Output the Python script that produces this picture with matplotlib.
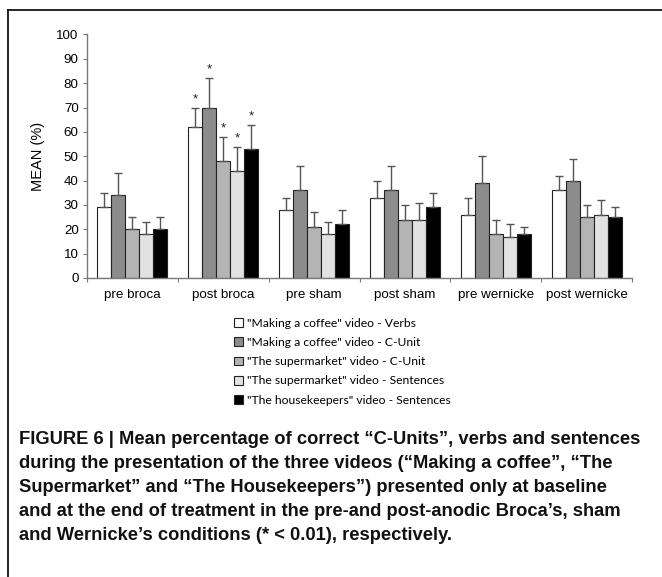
import matplotlib
matplotlib.use("Agg")
import matplotlib.pyplot as plt
from matplotlib.patches import Patch
from matplotlib.lines import Line2D
import numpy as np

categories = ["pre broca", "post broca", "pre sham", "post sham", "pre wernicke", "post wernicke"]
series_labels = ['"Making a coffee" video - Verbs',
                 '"Making a coffee" video - C-Unit',
                 '"The supermarket" video - C-Unit',
                 '"The supermarket" video - Sentences',
                 '"The housekeepers" video - Sentences']
means = [
    [29, 62, 28, 33, 26, 36],
    [34, 70, 36, 36, 39, 40],
    [20, 48, 21, 24, 18, 25],
    [18, 44, 18, 24, 17, 26],
    [20, 53, 22, 29, 18, 25],
]
err_tops = [
    [35, 70, 33, 40, 33, 42],
    [43, 82, 46, 46, 50, 49],
    [25, 58, 27, 30, 24, 30],
    [23, 54, 23, 31, 22, 32],
    [25, 63, 28, 35, 21, 29],
]
significant = [
    [False, True, False, False, False, False],
    [False, True, False, False, False, False],
    [False, True, False, False, False, False],
    [False, True, False, False, False, False],
    [False, True, False, False, False, False],
]
colors = ["#ffffff", "#8c8c8c", "#b4b4b4", "#e2e2e2", "#000000"]
yticks = list(range(0, 101, 10))
caption_lines = [
    "FIGURE 6 | Mean percentage of correct \u201cC-Units\u201d, verbs and sentences",
    "during the presentation of the three videos (\u201cMaking a coffee\u201d, \u201cThe",
    "Supermarket\u201d and \u201cThe Housekeepers\u201d) presented only at baseline",
    "and at the end of treatment in the pre-and post-anodic Broca\u2019s, sham",
    "and Wernicke\u2019s conditions (* < 0.01), respectively.",
]

W, H = 662, 577
plt.rcParams['font.family'] = ['Liberation Sans', 'DejaVu Sans']
fig = plt.figure(figsize=(W / 100, H / 100), dpi=100)

ax = fig.add_axes([87 / W, 1 - 278 / H, (632 - 87) / W, (278 - 34.5) / H])
n = len(means)
bw = 0.154
x0 = np.arange(len(categories)) + 0.5
spine_c = "#7a7a7a"
for s in range(n):
    xs = x0 + (s - (n - 1) / 2) * bw
    ax.bar(xs, means[s], width=bw, color=colors[s], edgecolor="#222222", linewidth=0.8, zorder=2)
    up = np.array(err_tops[s]) - np.array(means[s])
    ax.errorbar(xs, means[s], yerr=[np.zeros_like(up), up], fmt="none",
                ecolor="#555555", elinewidth=1.0, capsize=2.8, capthick=1.0, zorder=3)
    for i in range(len(categories)):
        if significant[s][i]:
            ax.text(xs[i], err_tops[s][i] + 1.0, "*", ha="center", va="bottom", fontsize=9.5, color="#222222")

ax.set_xlim(0, len(categories))
ax.set_ylim(0, 100)
ax.set_yticks(yticks)
ax.set_xticks(np.arange(len(categories) + 1))
ax.set_xticklabels([])
ax.set_xticks(x0, minor=True)
ax.set_xticklabels(categories, minor=True, fontsize=9.6)
ax.tick_params(axis="x", which="minor", length=0, pad=8)
ax.tick_params(axis="x", which="major", length=3, direction="out", color=spine_c)
ax.tick_params(axis="y", length=3, direction="out", color=spine_c, labelsize=9.6, pad=3)
for side in ["top", "right"]:
    ax.spines[side].set_visible(False)
for side in ["left", "bottom"]:
    ax.spines[side].set_color(spine_c)
    ax.spines[side].set_linewidth(1.0)
ax.set_ylabel("MEAN (%)", fontsize=10.5, labelpad=8)

handles = [Patch(facecolor=colors[s], edgecolor="#222222", linewidth=0.8) for s in range(n)]
fig.legend(handles, series_labels, loc="upper left", bbox_to_anchor=(229 / W, 1 - 313 / H),
           frameon=False, handlelength=0.75, handleheight=0.75,
           handletextpad=0.3, labelspacing=0.68, borderaxespad=0,
           prop={"family": ["Lato", "DejaVu Sans"], "size": 8.7})

# caption: fit first line to reference width
cap_texts = []
for k, line in enumerate(caption_lines):
    t = fig.text(19 / W, 1 - (440 + 24 * k) / H, line, ha="left", va="center",
                 fontsize=12, fontweight="bold", family=["Liberation Sans", "DejaVu Sans"], color="#111111")
    cap_texts.append(t)
renderer = fig.canvas.get_renderer()
w0 = cap_texts[0].get_window_extent(renderer).width
fs = 12 * 621 / w0
for t in cap_texts:
    t.set_fontsize(fs)

fig.add_artist(Line2D([8 / W, 1], [1 - 10 / H, 1 - 10 / H], color="black", linewidth=1.2))
fig.add_artist(Line2D([8 / W, 8 / W], [1 - 10 / H, 0], color="black", linewidth=1.2))

fig.savefig("out.png", dpi=100)
